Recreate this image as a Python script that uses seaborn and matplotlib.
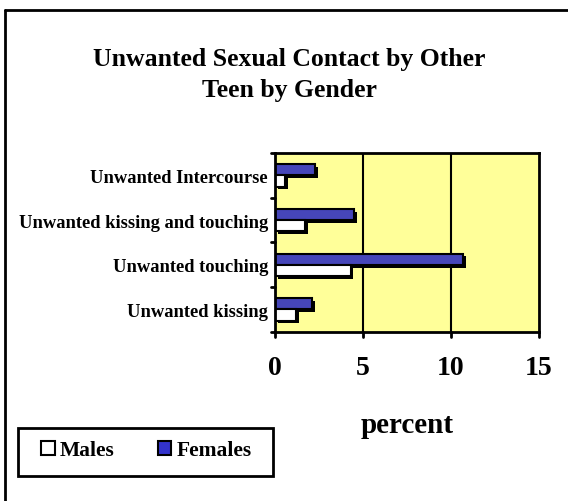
import matplotlib
matplotlib.use("Agg")
import matplotlib.pyplot as plt
import matplotlib.patheffects as pe
from matplotlib.lines import Line2D
from matplotlib.patches import Patch, Rectangle
import pandas as pd
import seaborn as sns

categories = ["Unwanted Intercourse", "Unwanted kissing and touching",
              "Unwanted touching", "Unwanted kissing"]
females = [2.3, 4.5, 10.7, 2.1]
males = [0.6, 1.7, 4.3, 1.2]
xticks = [0, 5, 10, 15]

df = pd.DataFrame({
    "category": categories * 2,
    "value": females + males,
    "gender": ["Females"] * 4 + ["Males"] * 4,
})

sns.set_style("white")
plt.rcParams["font.family"] = ["Liberation Serif", "DejaVu Serif"]
plt.rcParams["font.weight"] = "bold"
plt.rcParams["text.color"] = "black"
plt.rcParams["xtick.color"] = "black"
plt.rcParams["ytick.color"] = "black"

fig = plt.figure(figsize=(5.68, 5.02), dpi=100)
ax = fig.add_axes([0.484, 0.337, 0.465, 0.356])

colors = {"Females": "#3333CC", "Males": "#FFFFFF"}
sns.barplot(data=df, x="value", y="category", hue="gender",
            hue_order=["Females", "Males"], palette=colors,
            order=categories, width=0.5, edgecolor="black", linewidth=1.5,
            legend=False, ax=ax)

# drop shadows on bars
for p in ax.patches:
    p.set_path_effects([pe.SimplePatchShadow(offset=(2, -2), shadow_rgbFace="black", alpha=1),
                        pe.Normal()])

ax.set_facecolor("#FFFF99")
ax.set_xlim(0, 15)
ax.set_ylim(3.5, -0.5)
ax.set_xticks(xticks)
ax.set_xticklabels([str(t) for t in xticks], fontsize=20, fontweight="bold")
ax.set_yticks([0, 1, 2, 3])
ax.set_yticklabels(categories, fontsize=13.3, fontweight="bold")
ax.tick_params(axis="y", length=0, pad=5)
ax.tick_params(axis="x", length=0, pad=17)

# gridlines
for v in [5, 10]:
    ax.axvline(v, color="black", linewidth=1.5, zorder=0.5)

for s in ax.spines.values():
    s.set_color("black")
    s.set_linewidth(2)

# category boundary ticks on left, value ticks at bottom
for yb in [-0.5, 0.5, 1.5, 2.5, 3.5]:
    ax.plot([-0.25, 0], [yb, yb], color="black", linewidth=2, clip_on=False)
for xb in xticks:
    ax.plot([xb, xb], [3.5, 3.62], color="black", linewidth=2, clip_on=False)

ax.set_xlabel("")
ax.set_ylabel("")

fig.text(0.51, 0.882, "Unwanted Sexual Contact by Other", ha="center", va="center",
         fontsize=18.5, fontweight="bold")
fig.text(0.51, 0.820, "Teen by Gender", ha="center", va="center",
         fontsize=18.5, fontweight="bold")
fig.text(0.716, 0.153, "percent", ha="center", va="center", fontsize=21, fontweight="bold")

# legend box
fig.add_artist(Rectangle((0.032, 0.050), 0.449, 0.096, transform=fig.transFigure,
                         facecolor="white", edgecolor="black", linewidth=2))
handles = [Patch(facecolor="#FFFFFF", edgecolor="black", linewidth=1.5, label="Males"),
           Patch(facecolor="#3333CC", edgecolor="black", linewidth=1.5, label="Females")]
leg = fig.legend(handles=handles, ncol=2, loc="center",
                 bbox_to_anchor=(0.258, 0.101),
                 prop={"size": 15.5, "weight": "bold"}, frameon=False,
                 handlelength=0.62, handleheight=0.62, handletextpad=0.25,
                 borderaxespad=0, borderpad=0, columnspacing=2.0)

# chart border: top and left edges
fig.add_artist(Line2D([0.009, 1.0], [0.979, 0.979], transform=fig.transFigure,
                      color="black", linewidth=2))
fig.add_artist(Line2D([0.009, 0.009], [0.0, 0.979], transform=fig.transFigure,
                      color="black", linewidth=2))

fig.savefig("out.png", dpi=100)
